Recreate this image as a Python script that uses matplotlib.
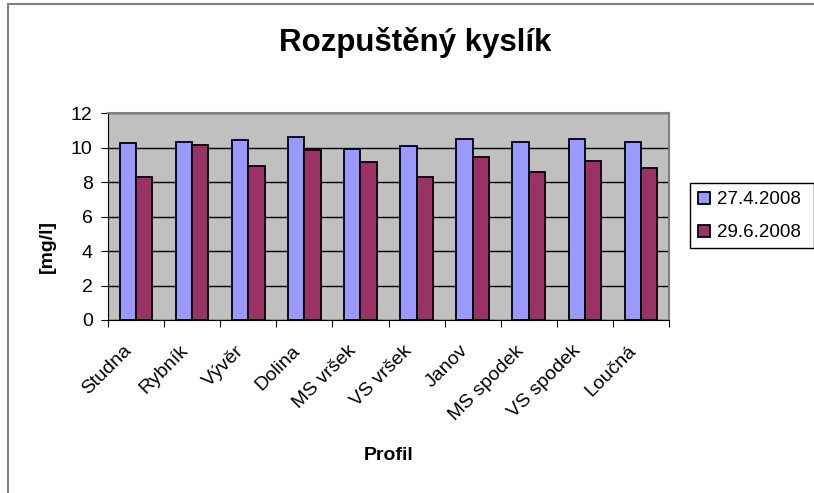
import matplotlib
matplotlib.use("Agg")
import matplotlib.pyplot as plt
import numpy as np
from matplotlib.lines import Line2D
from matplotlib.patches import Rectangle
from matplotlib.transforms import ScaledTranslation

categories = ["Studna", "Rybník", "Vývěr", "Dolina", "MS vršek", "VS vršek",
              "Janov", "MS spodek", "VS spodek", "Loučná"]
series_names = ["27.4.2008", "29.6.2008"]
vals_apr = [10.25, 10.34, 10.45, 10.6, 9.93, 10.1, 10.5, 10.33, 10.5, 10.33]
vals_jun = [8.3, 10.13, 8.94, 9.83, 9.16, 8.31, 9.44, 8.57, 9.22, 8.81]
yticks = [0, 2, 4, 6, 8, 10, 12]

plt.rcParams['font.family'] = ['Liberation Sans', 'DejaVu Sans']

fig = plt.figure(figsize=(8.14, 4.93), dpi=100)
ax = fig.add_axes([108/814, 1-320/493, (669-108)/814, (320-113)/493])
ax.set_facecolor('#C0C0C0')

x = np.arange(len(categories))
w = 0.29
ax.bar(x - w/2, vals_apr, width=w, color='#9999FF', edgecolor='black', linewidth=1.3,
       label=series_names[0], zorder=3)
ax.bar(x + w/2, vals_jun, width=w, color='#993366', edgecolor='black', linewidth=1.3,
       label=series_names[1], zorder=3)

ax.set_xlim(-0.5, len(categories) - 0.5)
ax.set_ylim(0, 12)
ax.set_yticks(yticks)
ax.yaxis.grid(True, color='black', linewidth=1, zorder=1)
ax.set_axisbelow(True)
ax.tick_params(axis='y', labelsize=14, length=5, direction='out', pad=6)

ax.set_xticks(np.arange(len(categories) + 1) - 0.5)
ax.set_xticklabels([])
ax.tick_params(axis='x', length=5, direction='out', which='major')
ax.set_xticks(x, minor=True)
ax.set_xticklabels(categories, minor=True, rotation=45, ha='right',
                   rotation_mode='anchor', fontsize=14)
ax.tick_params(axis='x', which='minor', length=0, pad=16)
off = ScaledTranslation(-13/100, 0, fig.dpi_scale_trans)
for lab in ax.get_xticklabels(minor=True):
    lab.set_transform(lab.get_transform() + off)

for s in ['top', 'right']:
    ax.spines[s].set_color('#808080')
    ax.spines[s].set_linewidth(1.5)
for s in ['left', 'bottom']:
    ax.spines[s].set_color('black')

ax.set_ylabel('[mg/l]', fontsize=14, fontweight='bold')
ax.yaxis.set_label_coords(47/814, 0.5, transform=fig.transFigure)
ax.yaxis.label.set_va('center')
fig.text(389/814, 1-455/493, 'Profil', fontsize=14, fontweight='bold', ha='center', va='center')
fig.text(415/814, 1-51/493, 'Rozpuštěný kyslík', fontsize=22.5, fontweight='bold',
         ha='center', va='baseline')

ax.add_patch(Rectangle((690/814, 1-248/493), (814-690)/814, 65/493,
                       transform=fig.transFigure, facecolor='white',
                       edgecolor='black', linewidth=1, clip_on=False, zorder=4))
leg = ax.legend(loc='upper left', bbox_to_anchor=(690/814, 1-184/493),
                bbox_transform=fig.transFigure, frameon=False,
                fontsize=13.5, handlelength=0.65, handleheight=0.65, handletextpad=0.4,
                borderpad=0.4, labelspacing=0.85, borderaxespad=0)
leg.set_zorder(6)

fig.add_artist(Line2D([8/814, 8/814], [0, 1-4/493], transform=fig.transFigure,
                      color='#808080', linewidth=1.5))
fig.add_artist(Line2D([8/814, 1], [1-4/493, 1-4/493], transform=fig.transFigure,
                      color='#808080', linewidth=1.5))

fig.savefig('out.png', dpi=100)
